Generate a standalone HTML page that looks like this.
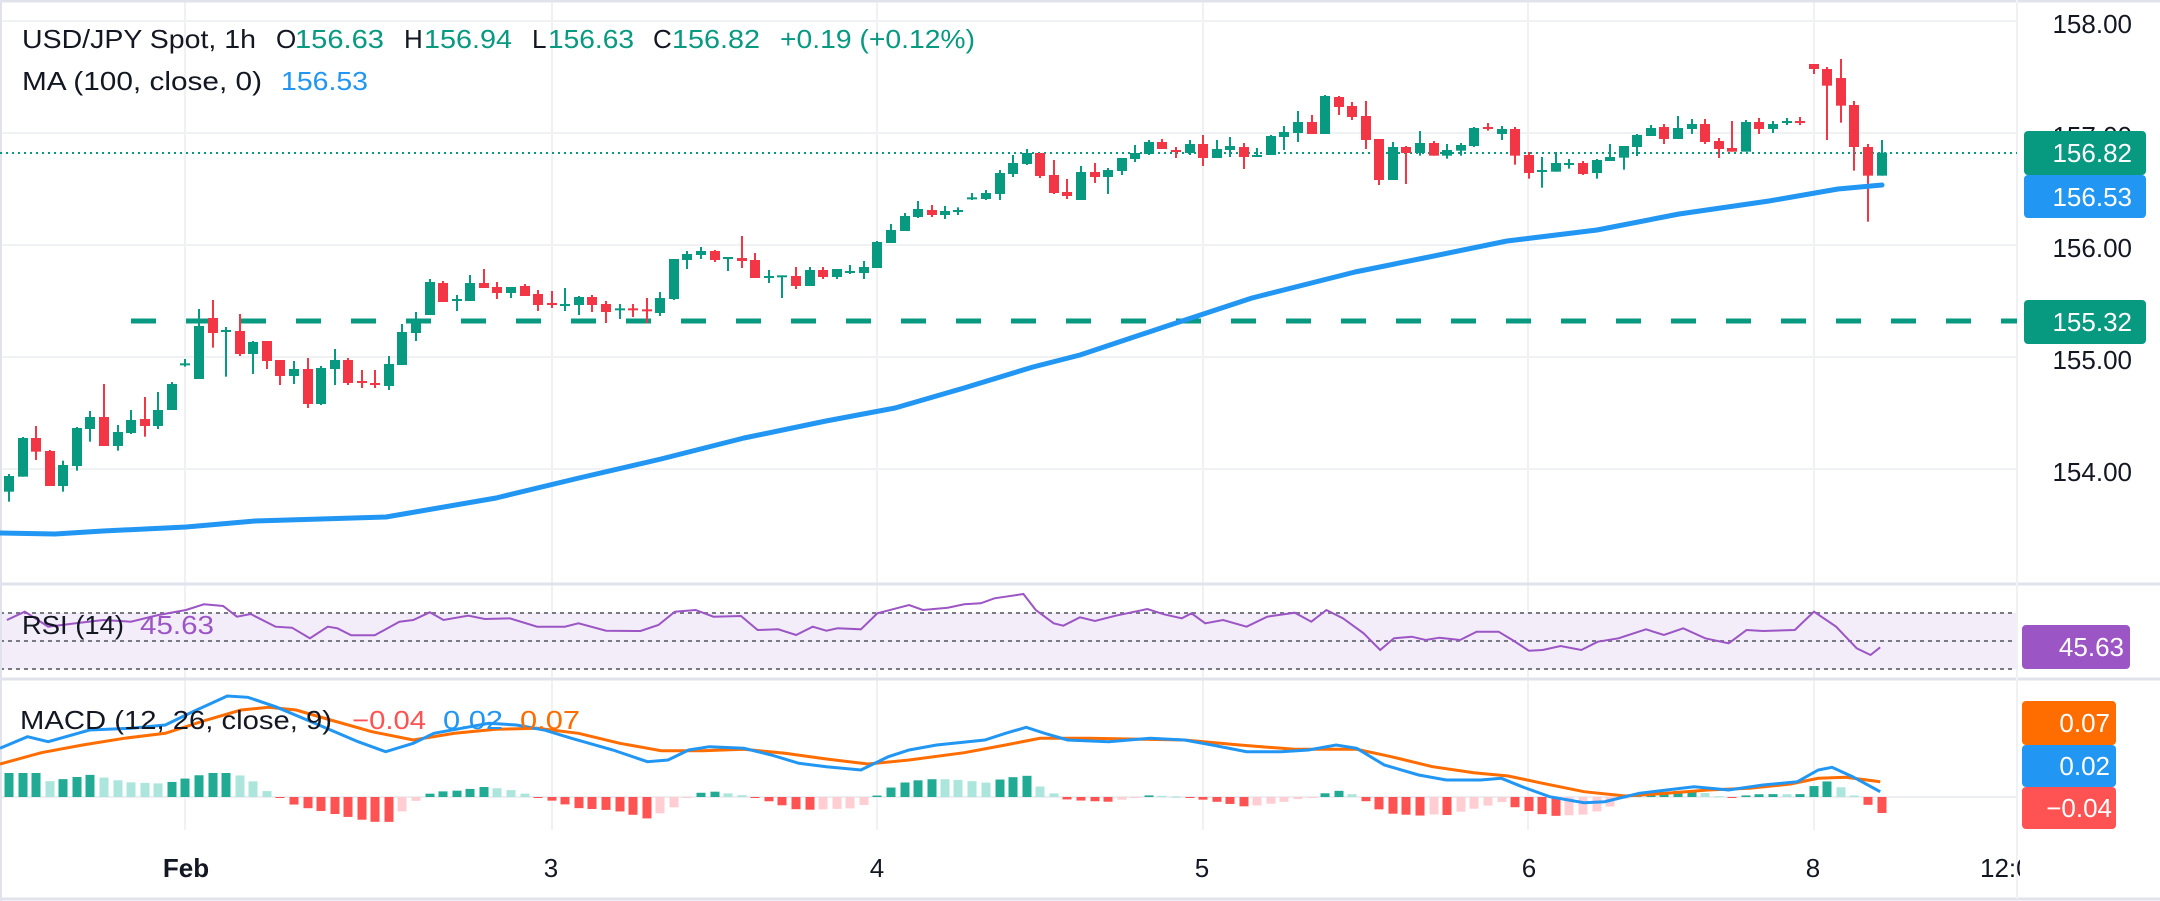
<!DOCTYPE html>
<html><head><meta charset="utf-8"><style>
html,body{margin:0;padding:0;background:#fff;width:2160px;height:901px;overflow:hidden}
svg{display:block}
text{font-family:"Liberation Sans","DejaVu Sans",sans-serif}
</style></head><body>
<svg id="s" width="2160" height="901" viewBox="0 0 2160 901" xmlns="http://www.w3.org/2000/svg">
<rect width="2160" height="901" fill="#fff"/>
<g id="grid" stroke="#f0f1f3" stroke-width="2">
<line x1="0" y1="21" x2="2017" y2="21"/><line x1="0" y1="133" x2="2017" y2="133"/><line x1="0" y1="245" x2="2017" y2="245"/><line x1="0" y1="357" x2="2017" y2="357"/><line x1="0" y1="469" x2="2017" y2="469"/>
<line x1="185" y1="0" x2="185" y2="830"/><line x1="552" y1="0" x2="552" y2="830"/><line x1="877" y1="0" x2="877" y2="830"/><line x1="1203" y1="0" x2="1203" y2="830"/><line x1="1528" y1="0" x2="1528" y2="830"/><line x1="1814" y1="0" x2="1814" y2="830"/>
</g>
<rect x="0" y="613" width="2017" height="56" fill="#f2edf9"/>
<g stroke="#787b86" stroke-width="2" stroke-dasharray="4,4">
<line x1="0" y1="613" x2="2017" y2="613"/><line x1="0" y1="641" x2="2017" y2="641"/><line x1="0" y1="669" x2="2017" y2="669"/>
</g>
<line x1="0" y1="797" x2="2017" y2="797" stroke="#eceef2" stroke-width="2"/>
<g stroke="#e0e3eb" stroke-width="3">
<line x1="0" y1="584" x2="2160" y2="584"/><line x1="0" y1="679" x2="2160" y2="679"/>
<line x1="0" y1="899" x2="2160" y2="899"/><line x1="0" y1="1" x2="2160" y2="1"/>
</g>
<line x1="2017" y1="0" x2="2017" y2="899" stroke="#f0f1f3" stroke-width="2"/>
<line x1="1" y1="0" x2="1" y2="901" stroke="#e0e3eb" stroke-width="2"/>
<line x1="0" y1="153" x2="2017" y2="153" stroke="#089981" stroke-width="2" stroke-dasharray="2,4"/>
<line x1="131" y1="321" x2="2017" y2="321" stroke="#089981" stroke-width="5" stroke-dasharray="25,30"/>
<g id="candles"></g>
<path id="ma" fill="none" stroke="#2196f3" stroke-width="5" stroke-linejoin="round" stroke-linecap="round"/>
<g id="hist"></g>
<path id="rsi" fill="none" stroke="#9c55c4" stroke-width="2"/>
<path id="sig" fill="none" stroke="#ff6d00" stroke-width="3"/>
<path id="macd" fill="none" stroke="#2196f3" stroke-width="3"/>

<!-- legend -->
<g font-size="26" fill="#131722">
<text x="22" y="48" textLength="234" lengthAdjust="spacingAndGlyphs">USD/JPY Spot, 1h</text>
<text x="276" y="48">O</text><text x="295" y="48" fill="#089981" textLength="89" lengthAdjust="spacingAndGlyphs">156.63</text>
<text x="404" y="48">H</text><text x="424" y="48" fill="#089981" textLength="88" lengthAdjust="spacingAndGlyphs">156.94</text>
<text x="532" y="48">L</text><text x="548" y="48" fill="#089981" textLength="86" lengthAdjust="spacingAndGlyphs">156.63</text>
<text x="653" y="48">C</text><text x="672" y="48" fill="#089981" textLength="88" lengthAdjust="spacingAndGlyphs">156.82</text>
<text x="780" y="48" fill="#089981" textLength="195" lengthAdjust="spacingAndGlyphs">+0.19 (+0.12%)</text>
<text x="22" y="90" textLength="240" lengthAdjust="spacingAndGlyphs">MA (100, close, 0)</text>
<text x="281" y="90" fill="#2196f3" textLength="87" lengthAdjust="spacingAndGlyphs">156.53</text>
<text x="22" y="634" textLength="102" lengthAdjust="spacingAndGlyphs">RSI (14)</text>
<text x="140" y="634" fill="#9c55c4" textLength="74" lengthAdjust="spacingAndGlyphs">45.63</text>
<text x="20" y="729" textLength="312" lengthAdjust="spacingAndGlyphs">MACD (12, 26, close, 9)</text>
<text x="352" y="729" fill="#ff5252" textLength="74" lengthAdjust="spacingAndGlyphs">−0.04</text>
<text x="443" y="729" fill="#2196f3" textLength="60" lengthAdjust="spacingAndGlyphs">0.02</text>
<text x="520" y="729" fill="#ff6d00" textLength="60" lengthAdjust="spacingAndGlyphs">0.07</text>
</g>
<!-- price axis -->
<g font-size="26" fill="#131722" text-anchor="end">
<text x="2132" y="33">158.00</text><text x="2132" y="145">157.00</text><text x="2132" y="257">156.00</text><text x="2132" y="369">155.00</text><text x="2132" y="481">154.00</text>
</g>
<rect x="2024" y="131" width="122" height="44" rx="4" fill="#089981"/>
<rect x="2024" y="175" width="122" height="43" rx="4" fill="#2196f3"/>
<rect x="2024" y="300" width="122" height="44" rx="4" fill="#089981"/>
<rect x="2022" y="625" width="108" height="44" rx="4" fill="#9c55c4"/>
<rect x="2022" y="701" width="94" height="44" rx="4" fill="#ff6d00"/>
<rect x="2022" y="745" width="94" height="42" rx="4" fill="#2196f3"/>
<rect x="2022" y="787" width="94" height="42" rx="4" fill="#ff5252"/>
<g font-size="26" fill="#fff" text-anchor="end">
<text x="2132" y="162">156.82</text><text x="2132" y="206">156.53</text><text x="2132" y="331">155.32</text>
<text x="2124" y="656">45.63</text>
<text x="2110" y="732">0.07</text><text x="2110" y="775">0.02</text><text x="2112" y="817">−0.04</text>
</g>
<!-- time axis -->
<g font-size="26" fill="#131722" text-anchor="middle">
<text x="186" y="877" font-weight="bold">Feb</text><text x="551" y="877">3</text><text x="877" y="877">4</text><text x="1202" y="877">5</text><text x="1529" y="877">6</text><text x="1813" y="877">8</text>
</g>
<svg x="1970" y="840" width="50" height="50"><text x="10" y="37" font-size="26" fill="#131722">12:0</text></svg>
</svg>
<script>
const NS="http://www.w3.org/2000/svg";
function el(p,t,a){const e=document.createElementNS(NS,t);for(const k in a)e.setAttribute(k,a[k]);p.appendChild(e);return e;}
const C=[];
function add(arr,ox,oy){arr.forEach(r=>C.push([ox+r[0]/3,r[1],oy+r[2]/3,oy+r[3]/3,oy+r[4]/3,oy+r[5]/3]));}
add([[27,'G',738,785,732,815],[69,'G',624,740,621,740],[108,'R',624,665,588,690],[150,'R',663,768,660,768],[189,'G',705,768,692,785],[231,'G',594,708,591,722],[270,'G',561,597,543,635],[312,'R',561,648,462,648],[354,'G',606,648,585,662],[393,'G',570,609,540,612],[435,'R',567,588,501,620],[474,'G',540,588,486,597],[516,'G',462,540,456,540],[555,'G',400,404,387,410],[597,'G',288,447,237,447],[639,'R',264,309,210,353],[678,'G',300,304,291,440],[720,'R',303,372,252,378],[759,'G',336,372,333,432],[801,'R',333,393,333,417],[840,'R',390,438,390,465],[882,'G',417,438,393,462],[924,'R',417,522,384,534],[963,'G',414,522,408,525],[1005,'G',390,417,357,465],[1044,'R',390,459,384,465],[1086,'R',453,458,420,474],[1125,'R',459,464,420,474],[1167,'G',402,468,378,480],[1206,'G',306,405,282,405],[1248,'G',270,309,246,333],[1290,'G',156,255,147,255],[1329,'R',159,216,153,216],[1371,'G',207,212,195,243],[1410,'G',159,213,135,213]],0,230);
add([[42,'R',489,504,447,504],[81,'R',501,519,486,537],[123,'G',501,519,501,534],[165,'R',498,528,492,528],[204,'R',522,555,510,573],[246,'R',549,555,513,564],[285,'G',552,557,504,573],[327,'G',531,555,528,585],[366,'R',531,555,525,576],[408,'R',552,576,543,609],[450,'G',565,569,552,597],[489,'R',565,569,552,591],[531,'R',568,572,534,609],[570,'G',534,579,516,588],[612,'G',417,537,417,540],[651,'G',402,420,393,447],[693,'G',393,405,381,417],[735,'R',393,420,390,426],[774,'G',411,415,411,453],[816,'R',414,423,348,444],[855,'R',420,474,399,474],[897,'G',468,472,450,489],[936,'G',466,470,466,534],[978,'R',468,498,441,507],[1020,'G',450,498,441,498],[1059,'R',450,471,441,477],[1101,'G',447,471,447,477],[1140,'G',453,458,435,462],[1182,'G',441,459,423,477],[1221,'G',366,444,363,444],[1263,'G',330,369,312,369],[1305,'G',288,333,279,333],[1344,'G',267,291,243,294],[1386,'R',270,285,255,291],[1425,'G',273,285,258,297],[1464,'G',270,276,262,285]],470,120);
add([[96,'G',352,356,339,360],[138,'G',339,357,330,360],[180,'G',279,342,270,360],[219,'G',249,282,225,291],[261,'G',219,252,207,255],[300,'R',219,288,219,294],[342,'R',285,339,240,342],[381,'R',336,348,297,357],[423,'G',276,360,258,360],[465,'R',276,291,249,309],[504,'G',270,291,264,342],[546,'G',234,273,234,285],[585,'G',219,237,195,246],[627,'G',186,222,180,225],[666,'R',186,207,177,207],[708,'R',210,216,201,234],[750,'G',192,219,180,225],[789,'R',192,234,165,258],[831,'G',207,234,180,234],[870,'G',198,210,171,231],[912,'R',201,231,189,267],[951,'G',225,231,204,231],[993,'G',168,225,165,225],[1032,'G',156,171,138,210],[1074,'G',126,159,93,186],[1116,'R',126,162,105,162],[1155,'G',48,162,45,162],[1197,'R',51,81,48,105],[1236,'R',78,111,66,120],[1278,'R',108,180,63,207],[1317,'R',177,300,177,315],[1359,'G',201,300,186,300],[1398,'R',201,219,198,312]],940,80);
add([[30,'G',279,309,243,317],[72,'R',279,317,273,317],[111,'G',300,317,282,326],[153,'G',285,302,279,317],[192,'G',234,288,231,291],[234,'R',231,236,219,242],[276,'G',237,252,228,270],[315,'R',237,317,231,344],[357,'R',315,369,306,386],[396,'G',360,364,321,413],[438,'G',339,365,306,365],[477,'G',339,343,327,356],[519,'R',339,372,333,375],[561,'G',330,369,327,386],[600,'G',321,333,282,333],[642,'G',288,323,288,359],[681,'G',255,291,252,318],[723,'G',234,258,225,258],[762,'R',231,267,222,282],[804,'G',234,267,198,267],[846,'G',222,237,207,252],[885,'R',222,276,207,282],[927,'R',273,297,264,324],[966,'R',294,305,213,305],[1008,'G',216,305,210,305],[1047,'R',216,237,204,252],[1089,'G',222,237,213,249],[1131,'G',213,218,204,225],[1170,'R',213,218,201,225],[1212,'R',42,57,42,72],[1251,'R',57,107,51,270],[1293,'R',84,167,27,218],[1332,'R',165,291,153,362],[1374,'R',291,377,282,515],[1416,'G',308,377,270,377]],1410,50);
const cg=document.getElementById('candles');
C.forEach(c=>{const col=c[1]=='G'?'#089981':'#f23645';
el(cg,'rect',{x:c[0]-1,y:c[4],width:2,height:Math.max(1,c[5]-c[4]),fill:col});
el(cg,'rect',{x:c[0]-5,y:c[2],width:10,height:Math.max(2,c[3]-c[2]),fill:col});});
function pth(pts){return 'M'+pts.map(p=>p[0].toFixed(1)+','+p[1].toFixed(1)).join('L');}
const MA=[[0,533],[55,534],[103,531],[186,527],[255,521],[386,517],[496,498],[579,478],[661,459],[744,438],[826,421],[895,408],[964,388],[1033,367],[1080,355],[1170,325],[1252,298],[1355,272],[1424,258],[1507,241],[1597,230],[1679,214],[1769,201],[1838,189],[1882,185]];
document.getElementById('ma').setAttribute('d',pth(MA));
function cv(a){return a.map(p=>[p[0]/0.726,560+p[1]/3]);}
const RSI=cv([[5,180],[18,155],[35,200],[55,190],[75,180],[95,185],[115,165],[135,150],[148,133],[162,138],[172,170],[182,162],[200,200],[212,203],[225,235],[238,200],[245,205],[255,226],[272,226],[290,185],[300,180],[312,157],[322,180],[340,167],[352,177],[370,175],[390,200],[410,200],[420,190],[440,212],[465,213],[478,195],[490,155],[505,150],[518,170],[538,168],[550,210],[565,208],[578,225],[590,200],[600,212],[608,205],[625,208],[637,160],[660,135],[670,150],[688,143],[700,133],[712,130],[722,115],[743,102],[752,150],[765,190],[772,197],[784,172],[795,183],[810,167],[833,147],[845,163],[858,175],[865,160],[875,190],[888,180],[905,200],[920,170],[940,158],[952,185],[963,150],[975,175],[990,220],[1002,270],[1012,235],[1025,230],[1035,240],[1045,233],[1060,240],[1072,215],[1088,215],[1098,240],[1110,272],[1120,270],[1133,258],[1148,270],[1160,245],[1175,235],[1195,208],[1208,225],[1222,205],[1238,235],[1255,250],[1268,210],[1280,213],[1303,210],[1317,155],[1333,200],[1348,265],[1358,285],[1365,262]]);
document.getElementById('rsi').setAttribute('d',pth(RSI));
const M=cv([[0,565],[20,530],[35,545],[65,510],[95,505],[120,495],[140,455],[165,408],[180,412],[200,440],[220,475],[240,510],[260,545],[280,575],[300,550],[315,520],[335,505],[355,490],[375,495],[395,510],[415,535],[445,570],[470,605],[485,600],[500,570],[515,560],[540,565],[560,585],[580,610],[600,620],[625,630],[645,590],[660,570],[680,555],[715,540],[730,520],[745,502],[760,522],[775,540],[805,545],[835,535],[860,540],[880,555],[905,575],[930,575],[950,570],[970,555],[985,565],[1005,615],[1030,645],[1050,660],[1075,660],[1090,655],[1105,680],[1125,710],[1150,728],[1165,725],[1190,700],[1210,690],[1230,680],[1255,690],[1280,675],[1305,665],[1320,630],[1330,622],[1345,650],[1365,695]]);
const S=cv([[0,612],[30,578],[60,555],[90,535],[120,520],[150,480],[175,450],[195,442],[215,450],[240,480],[270,515],[300,540],[330,520],[360,508],[390,505],[420,520],[450,550],[480,572],[510,572],[540,568],[570,580],[600,597],[630,612],[660,600],[700,578],[730,555],[755,535],[790,535],[830,538],[860,540],[900,555],[940,568],[985,568],[1010,590],[1040,620],[1070,638],[1095,648],[1120,670],[1150,695],[1180,708],[1210,700],[1240,690],[1270,685],[1300,672],[1320,655],[1340,652],[1365,665]]);
document.getElementById('macd').setAttribute('d',pth(M));
document.getElementById('sig').setAttribute('d',pth(S));
function interp(a,x){if(x<=a[0][0])return a[0][1];for(let i=1;i<a.length;i++){if(x<=a[i][0]){const t=(x-a[i-1][0])/(a[i][0]-a[i-1][0]);return a[i-1][1]+t*(a[i][1]-a[i-1][1]);}}return a[a.length-1][1];}
const hg=document.getElementById('hist');let prev=0;
C.forEach(c=>{const x=c[0];let h=(interp(S,x)-interp(M,x))*1.6;h=Math.max(-26,Math.min(24,h));
let col;if(h>=0)col=h>=prev?'#22ab94':'#ace5dc';else col=h<=prev?'#ff5252':'#ffcdd2';prev=h;
const y=h>=0?797-h:797;el(hg,'rect',{x:x-4.5,y:y,width:9,height:Math.max(1,Math.abs(h)),fill:col});});
</script>
</body></html>
